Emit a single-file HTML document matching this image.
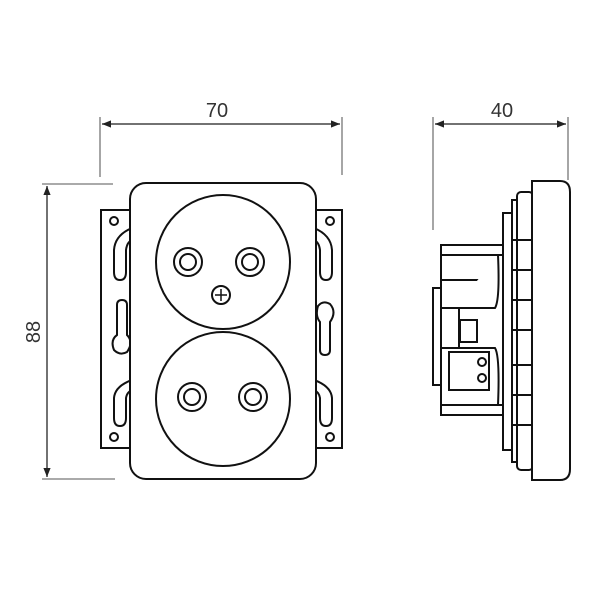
<!DOCTYPE html>
<html><head><style>html,body{margin:0;padding:0;background:#fff}</style></head><body>
<svg width="600" height="600" viewBox="0 0 600 600" xmlns="http://www.w3.org/2000/svg">
<defs>
<marker id="a" viewBox="0 0 10 10" refX="10" refY="5" markerWidth="18" markerHeight="9" markerUnits="userSpaceOnUse" orient="auto-start-reverse"><path d="M0,1 L10,5 L0,9 Z" fill="#222"/></marker>
</defs>
<g stroke="#777" stroke-width="1.3" fill="none">
<line x1="100" y1="117" x2="100" y2="177"/><line x1="342" y1="117" x2="342" y2="175"/>
<line x1="42" y1="184" x2="113" y2="184"/><line x1="42" y1="479" x2="115" y2="479"/>
<line x1="433" y1="117" x2="433" y2="230"/><line x1="568" y1="117" x2="568" y2="180"/>
</g>
<g stroke="#444" stroke-width="1.5">
<line x1="102" y1="124" x2="340" y2="124" marker-start="url(#a)" marker-end="url(#a)"/>
<line x1="47" y1="186" x2="47" y2="477" marker-start="url(#a)" marker-end="url(#a)"/>
<line x1="435" y1="124" x2="566" y2="124" marker-start="url(#a)" marker-end="url(#a)"/>
</g>
<g font-family="Liberation Sans, sans-serif" font-size="20" fill="#333" text-anchor="middle">
<text x="217" y="117">70</text><text x="502" y="117">40</text>
<text transform="translate(40,332) rotate(-90)">88</text>
</g>
<g stroke="#111" stroke-width="2" fill="#fff">
<rect x="101" y="210" width="31" height="238"/>
<rect x="314" y="210" width="28" height="238"/>
<circle cx="114" cy="221" r="4"/><circle cx="114" cy="437" r="4"/>
<circle cx="330" cy="221" r="4"/><circle cx="330" cy="437" r="4"/>
<path d="M132 228 Q115 235 114 250 L114 272 Q114 280 120 280 Q126 280 126 272 L126 250 Q127 242 132 240"/>
<path d="M132 380 Q115 386 114 398 L114 418 Q114 426 120 426 Q126 426 126 418 L126 398 Q127 392 132 390"/>
<path d="M117 305 Q117 300 122 300 Q127 300 127 305 L127 335 Q134 342 127 352 Q120 356 114 350 Q110 340 117 335 Z"/>
<path d="M314 228 Q331 235 332 250 L332 272 Q332 280 326 280 Q320 280 320 272 L320 250 Q319 242 314 240"/>
<path d="M314 380 Q331 386 332 398 L332 418 Q332 426 326 426 Q320 426 320 418 L320 398 Q319 392 314 390"/>
<path d="M320 350 Q320 355 325 355 Q330 355 330 350 L330 322 Q337 312 330 304 Q323 300 318 306 Q315 316 320 322 Z"/>
<rect x="130" y="183" width="186" height="296" rx="16"/>
<circle cx="223" cy="262" r="67"/><circle cx="223" cy="399" r="67"/>
<circle cx="188" cy="262" r="14"/><circle cx="188" cy="262" r="8"/>
<circle cx="250" cy="262" r="14"/><circle cx="250" cy="262" r="8"/>
<circle cx="192" cy="397" r="14"/><circle cx="192" cy="397" r="8"/>
<circle cx="253" cy="397" r="14"/><circle cx="253" cy="397" r="8"/>
<circle cx="221" cy="295" r="9"/>
</g>
<g stroke="#111" stroke-width="1.5"><line x1="215" y1="295" x2="227" y2="295"/><line x1="221" y1="289" x2="221" y2="301"/></g>
<g stroke="#111" stroke-width="2" fill="#fff">
<rect x="433" y="288" width="9" height="97"/>
<rect x="441" y="245" width="62" height="170"/>
<line x1="441" y1="255" x2="503" y2="255"/><line x1="441" y1="405" x2="503" y2="405"/>
<line x1="441" y1="280" x2="495" y2="280"/>
<rect x="441" y="308" width="18" height="40"/>
<path d="M455 308 L495 308 Q500 300 498 255"/>
<path d="M455 348 L495 348 Q500 356 498 405"/>
<rect x="460" y="320" width="17" height="22"/>
<rect x="449" y="352" width="40" height="38"/>
<circle cx="482" cy="362" r="4"/><circle cx="482" cy="378" r="4"/>
<rect x="503" y="213" width="9" height="237"/>
<rect x="512" y="200" width="10" height="262"/>
<rect x="517" y="192" width="16" height="278" rx="4"/>
<line x1="512" y1="240" x2="533" y2="240"/><line x1="512" y1="270" x2="533" y2="270"/>
<line x1="512" y1="300" x2="533" y2="300"/><line x1="512" y1="330" x2="533" y2="330"/>
<line x1="512" y1="365" x2="533" y2="365"/><line x1="512" y1="395" x2="533" y2="395"/>
<line x1="512" y1="425" x2="533" y2="425"/>
<path d="M532 181 L560 181 Q570 181 570 192 L570 469 Q570 480 560 480 L532 480 Z"/>
</g>
</svg>
</body></html>
